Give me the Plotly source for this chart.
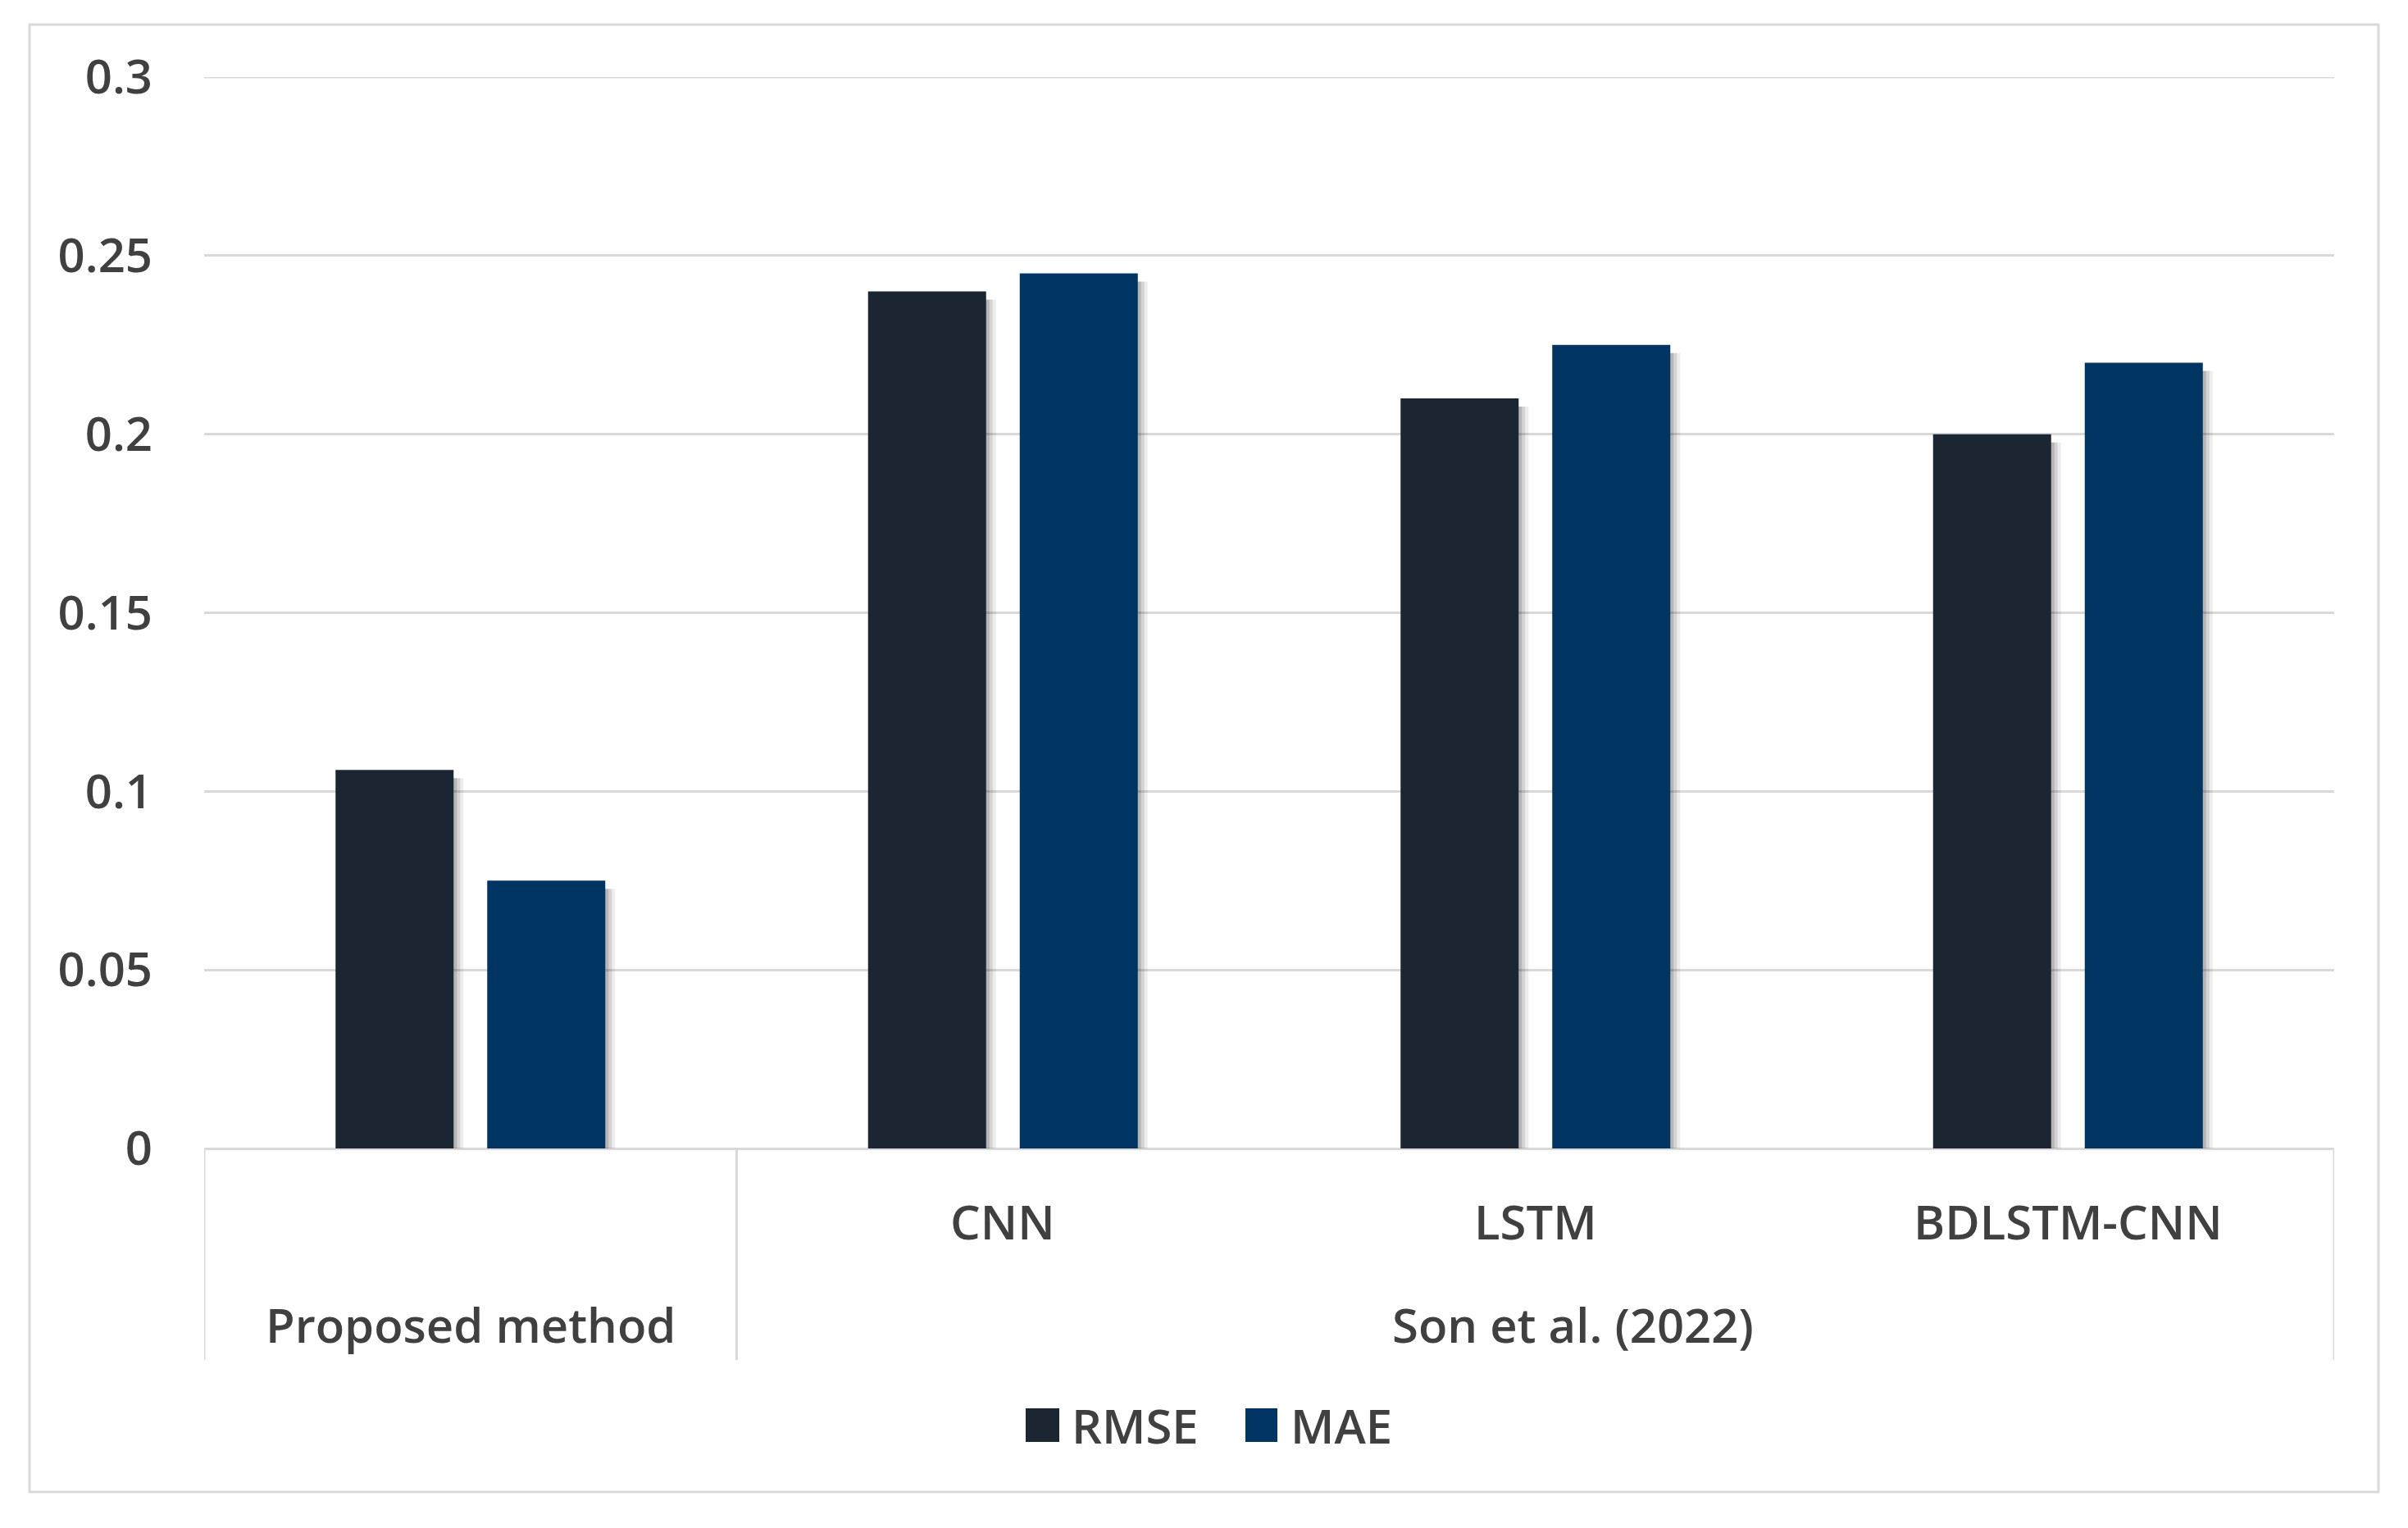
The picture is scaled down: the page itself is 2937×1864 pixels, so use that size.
import plotly.graph_objects as go

# ---- data ----
categories = ["Proposed", "CNN", "LSTM", "BDLSTM-CNN"]
inner_labels = ["", "CNN", "LSTM", "BDLSTM-CNN"]
group_labels = ["Proposed method", "Son et al. (2022)"]
group_centers = [0, 2.07]
rmse = [0.106, 0.240, 0.210, 0.200]
mae = [0.075, 0.245, 0.225, 0.220]
y_ticks = [0, 0.05, 0.1, 0.15, 0.2, 0.25, 0.3]
y_ticktext = ["0", "0.05", "0.1", "0.15", "0.2", "0.25", "0.3"]
series_names = ["RMSE", "MAE"]
series_colors = ["#1b2632", "#003462"]

OFF = 8  # page body margin
W, H = 2937 - OFF, 1864 - OFF
# page pixel positions of plot area
PL, PR, PT, PB = 249, 2847, 94, 1401
L, T = PL - OFF, PT - OFF
R = W - (PR - OFF)
B = H - (PB - OFF)
pw, ph = PR - PL, PB - PT
YMAX = 0.3

def px(x):
    return (x - PL) / pw

def py(y):
    return (PB - y) / ph

cat_px = pw / len(categories)
bar_w = 144 / cat_px          # bar width in category units
half_gap = 20.5 / cat_px      # half the gap between the two bars of a group
offsets = [-half_gap - bar_w, half_gap]
px_to_val = YMAX / ph

FONT = "Open Sans"
TXT = "#404040"
GRID = "#d9d9d9"
FS = 58

fig = go.Figure()
# soft drop shadows (drawn first, behind the bars)
for vals, off in zip([rmse, mae], offsets):
    for shift, alpha in [(12, 0.07), (8, 0.10), (4, 0.14)]:
        fig.add_trace(go.Bar(x=categories, y=[v - 10 * px_to_val for v in vals],
                             base=[0] * len(vals), offset=off + shift / cat_px, width=bar_w,
                             marker=dict(color=f"rgba(0,0,0,{alpha})", line=dict(width=0)),
                             showlegend=False, hoverinfo="skip"))
for name, vals, col, off in zip(series_names, [rmse, mae], series_colors, offsets):
    fig.add_trace(go.Bar(x=categories, y=vals, name=name, offset=off, width=bar_w,
                         marker=dict(color=col, line=dict(width=0)), showlegend=False))

shapes = []
# outer border
shapes.append(dict(type="rect", xref="paper", yref="paper", x0=px(36), x1=px(2901), y0=py(1820), y1=py(30),
                   line=dict(color=GRID, width=3), layer="below"))
# category dividers
for xv in [-0.5, 0.5, 3.5]:
    shapes.append(dict(type="line", xref="x", yref="paper", x0=xv, x1=xv, y0=0, y1=py(1659),
                       line=dict(color=GRID, width=3)))
# legend squares
leg_sq = [(1251, 1292), (1519, 1558)]
for (a, b), col in zip(leg_sq, series_colors):
    shapes.append(dict(type="rect", xref="paper", yref="paper", x0=px(a), x1=px(b), y0=py(1759), y1=py(1718),
                       line=dict(width=0), fillcolor=col))

annotations = []
for c, lab in zip(categories, inner_labels):
    if lab:
        annotations.append(dict(x=c, y=py(1489), xref="x", yref="paper", text=lab, showarrow=False,
                                font=dict(family=FONT, size=FS, color=TXT, weight=600),
                                xanchor="center", yanchor="middle"))
for xc, lab in zip(group_centers, group_labels):
    annotations.append(dict(x=xc, y=py(1615), xref="x", yref="paper", text=lab, showarrow=False,
                            font=dict(family=FONT, size=FS, color=TXT, weight=600),
                            xanchor="center", yanchor="middle"))
for xs, name in zip([1305, 1572], series_names):
    annotations.append(dict(x=px(xs), y=py(1738), xref="paper", yref="paper", text=name, showarrow=False,
                            font=dict(family=FONT, size=FS, color=TXT, weight=600),
                            xanchor="left", yanchor="middle"))

fig.update_layout(
    width=W, height=H,
    margin=dict(l=L, r=R, t=T, b=B, autoexpand=False),
    paper_bgcolor="white", plot_bgcolor="white",
    barmode="overlay",
    shapes=shapes, annotations=annotations,
    showlegend=False,
    font=dict(family=FONT, color=TXT),
)
fig.update_xaxes(type="category", showticklabels=False, showgrid=False, zeroline=False,
                 showline=False, ticks="", range=[-0.5, 3.5])
fig.update_yaxes(range=[0, YMAX], tickvals=y_ticks, ticktext=y_ticktext, showgrid=True,
                 gridcolor=GRID, gridwidth=3, zeroline=True, zerolinecolor=GRID, zerolinewidth=3,
                 showline=False, ticks="", ticklabelstandoff=62,
                 tickfont=dict(family=FONT, size=FS, color=TXT, weight=600))
# top gridline at the axis maximum (plotly omits the grid line at the range edge)
fig.add_hline(y=YMAX, line=dict(color=GRID, width=3), layer="below")

fig.write_html("out.html")
